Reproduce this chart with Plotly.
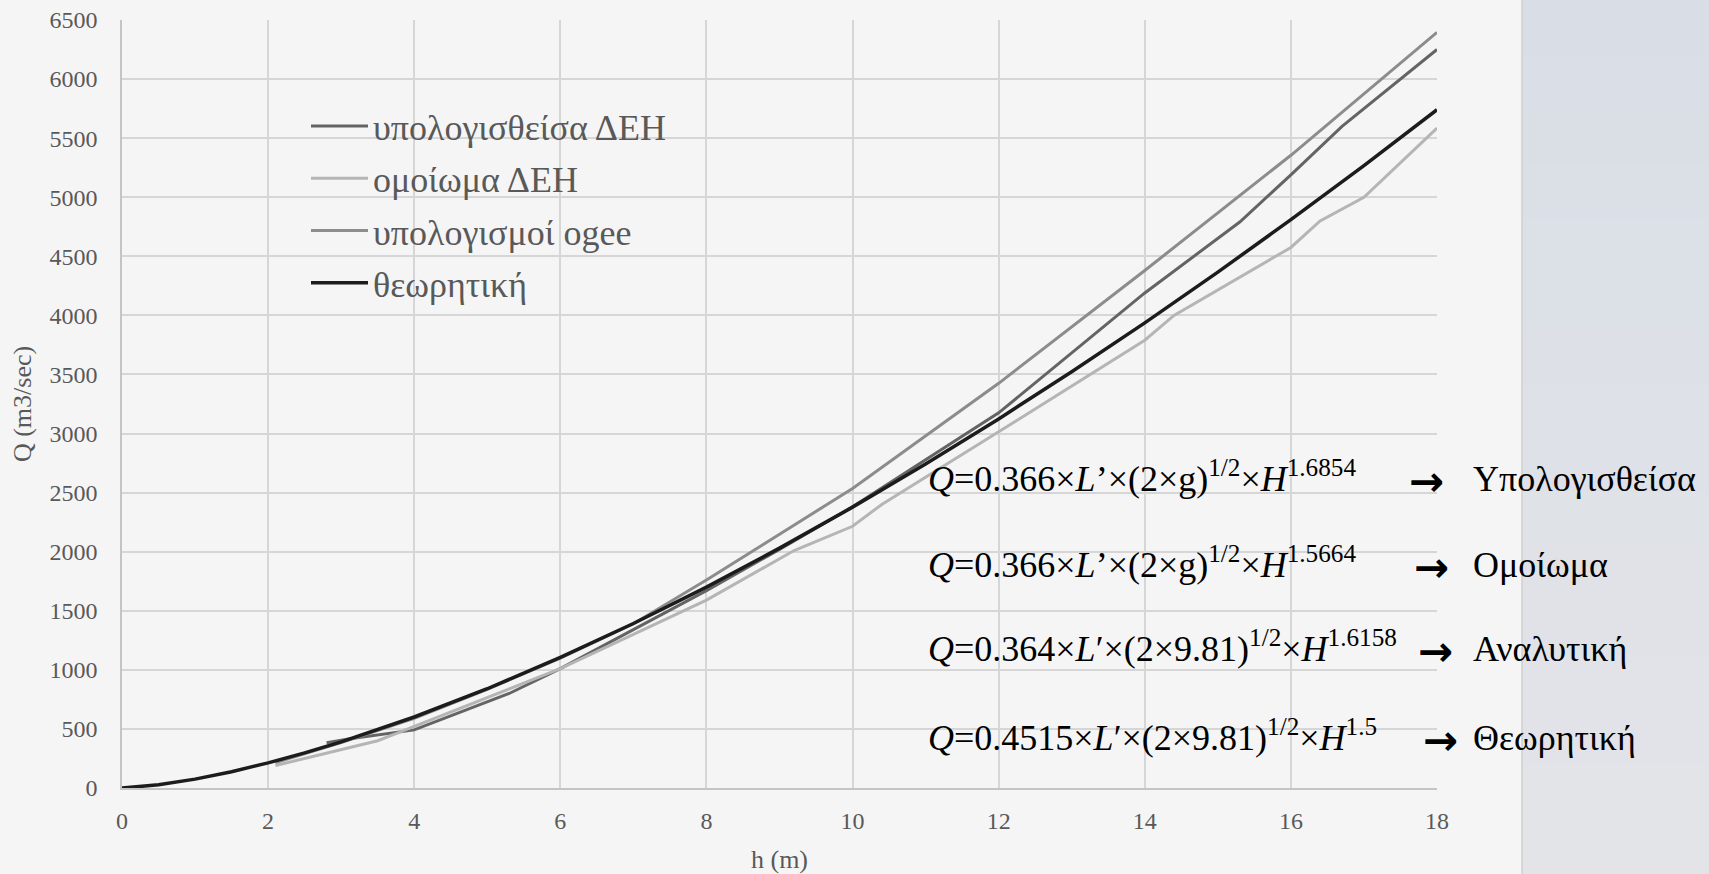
import plotly.graph_objects as go

# --- data -------------------------------------------------------------
# υπολογισθείσα ΔΕΗ
h_calc = [2.8, 3.1, 4.0, 5.3, 6.0, 7.0, 8.0, 9.0, 10.0, 12.0, 14.0, 15.3, 16.0, 16.7, 18.0]
q_calc = [383, 415, 492, 800, 1010, 1340, 1670, 2020, 2380, 3175, 4190, 4790, 5190, 5600, 6250]

# ομοίωμα ΔΕΗ
h_model = [2.1, 3.5, 3.75, 6.0, 8.0, 9.2, 10.0, 10.4, 12.0, 14.0, 14.4, 16.0, 16.4, 17.0, 18.0]
q_model = [190, 400, 460, 1010, 1590, 2010, 2215, 2400, 3015, 3790, 4000, 4575, 4800, 5000, 5585]

# υπολογισμοί ogee
h_ogee = [2.1, 3.0, 4.0, 5.0, 6.0, 7.0, 8.0, 9.0, 10.0, 12.0, 14.0, 16.0, 18.0]
q_ogee = [215, 385, 590, 835, 1100, 1390, 1760, 2150, 2535, 3425, 4380, 5355, 6395]

# θεωρητική
h_theory = [0, 0.5, 1, 1.5, 2, 2.5, 3, 3.5, 4, 5, 6, 7, 8, 9, 10, 11, 12, 13, 14, 15, 16, 17, 18]
q_theory = [0, 27, 75, 138, 213, 297, 390, 492, 601, 840, 1105, 1392, 1700, 2030, 2377, 2742,
             3124, 3523, 3937, 4366, 4810, 5268, 5741]

series_names = ["υπολογισθείσα ΔΕΗ", "ομοίωμα ΔΕΗ", "υπολογισμοί ogee", "θεωρητική"]

formulas = [
    "<i>Q</i>=0.366×<i>L</i>’×(2×g)<sup>1/2</sup>×<i>H</i><sup>1.6854</sup>",
    "<i>Q</i>=0.366×<i>L</i>’×(2×g)<sup>1/2</sup>×<i>H</i><sup>1.5664</sup>",
    "<i>Q</i>=0.364×<i>L</i>′×(2×9.81)<sup>1/2</sup>×<i>H</i><sup>1.6158</sup>",
    "<i>Q</i>=0.4515×<i>L</i>′×(2×9.81)<sup>1/2</sup>×<i>H</i><sup>1.5</sup>",
]
formula_labels = ["Υπολογισθείσα", "Ομοίωμα", "Αναλυτική", "Θεωρητική"]

# --- layout geometry (pixels) ------------------------------------------
W, H = 1709, 874
ML, MR, MT, MB = 122, 272, 20, 86
PW, PH = W - ML - MR, H - MT - MB


def px(x):
    return (x - ML) / PW


def py(y):
    return (H - MB - y) / PH


SERIF = "Liberation Serif, DejaVu Serif, serif"
GREY_TXT = "#595959"

fig = go.Figure()
styles = [("#646464", 3), ("#B5B5B5", 3), ("#8C8C8C", 3), ("#1C1C1C", 3.5)]
for name, xs, ys, (col, w) in zip(
    series_names,
    [h_calc, h_model, h_ogee, h_theory],
    [q_calc, q_model, q_ogee, q_theory],
    styles,
):
    fig.add_trace(go.Scatter(x=xs, y=ys, mode="lines", name=name, legendgroup=name,
                             line=dict(color=col, width=w)))

axis_common = dict(
    showgrid=True, gridcolor="#D6D6D6", gridwidth=1.5,
    showline=True, linecolor="#C4C4C4", linewidth=1.5,
    zeroline=False, ticks="outside", tickcolor="rgba(0,0,0,0)",
    tickfont=dict(family=SERIF, size=24, color=GREY_TXT),
)

# side panel with a soft vertical gradient
shapes = []
top_rgb = (217, 222, 230)
bot_rgb = (227, 228, 232)
n = 16
for i in range(n):
    t = i / (n - 1)
    c = tuple(round(a + (b - a) * t) for a, b in zip(top_rgb, bot_rgb))
    y0 = i * H / n
    y1 = (i + 1) * H / n + 1
    shapes.append(dict(type="rect", xref="paper", yref="paper",
                       x0=px(1522), x1=px(W + 2), y0=py(y1), y1=py(y0),
                       fillcolor="rgb(%d,%d,%d)" % c, line=dict(width=0), layer="below"))
shapes.append(dict(type="line", xref="paper", yref="paper", x0=px(1522), x1=px(1522),
                   y0=py(H + 2), y1=py(-2), line=dict(color="#CFCFCF", width=1.5)))

annotations = []
baselines = [493, 579, 663, 752]
arrow_x = [1407, 1412, 1416, 1421]
for f, lab, yb, ax in zip(formulas, formula_labels, baselines, arrow_x):
    annotations.append(dict(text=f, xref="paper", yref="paper", x=px(926), y=py(yb + 8),
                            xanchor="left", yanchor="bottom", showarrow=False,
                            font=dict(family=SERIF, size=36, color="black")))
    annotations.append(dict(text="→", xref="paper", yref="paper", x=px(ax), y=py(yb - 12),
                            xanchor="left", yanchor="middle", showarrow=False,
                            font=dict(family="DejaVu Sans", size=42, color="black",
                                      weight="bold")))
    annotations.append(dict(text=lab, xref="paper", yref="paper", x=px(1471), y=py(yb + 8),
                            xanchor="left", yanchor="bottom", showarrow=False,
                            font=dict(family=SERIF, size=36, color="black")))

fig.update_layout(
    width=W, height=H,
    margin=dict(l=ML, r=MR, t=MT, b=MB, pad=0, autoexpand=False),
    paper_bgcolor="#F5F5F5", plot_bgcolor="#F5F5F5",
    xaxis=dict(range=[0, 18], dtick=2, tick0=0, ticklen=10,
               title=dict(text="h (m)", standoff=18,
                          font=dict(family=SERIF, size=26, color=GREY_TXT)),
               **axis_common),
    yaxis=dict(range=[0, 6500], dtick=500, tick0=0, ticklen=18,
               title=dict(text="Q (m3/sec)", standoff=10,
                          font=dict(family=SERIF, size=26, color=GREY_TXT)),
               **axis_common),
    legend=dict(x=px(306), y=py(96), xanchor="left", yanchor="top",
                bgcolor="rgba(0,0,0,0)", itemwidth=57, tracegroupgap=2.5,
                font=dict(family=SERIF, size=36, color=GREY_TXT), traceorder="grouped"),
    shapes=shapes,
    annotations=annotations,
    showlegend=True,
)

fig.write_html("out.html")
